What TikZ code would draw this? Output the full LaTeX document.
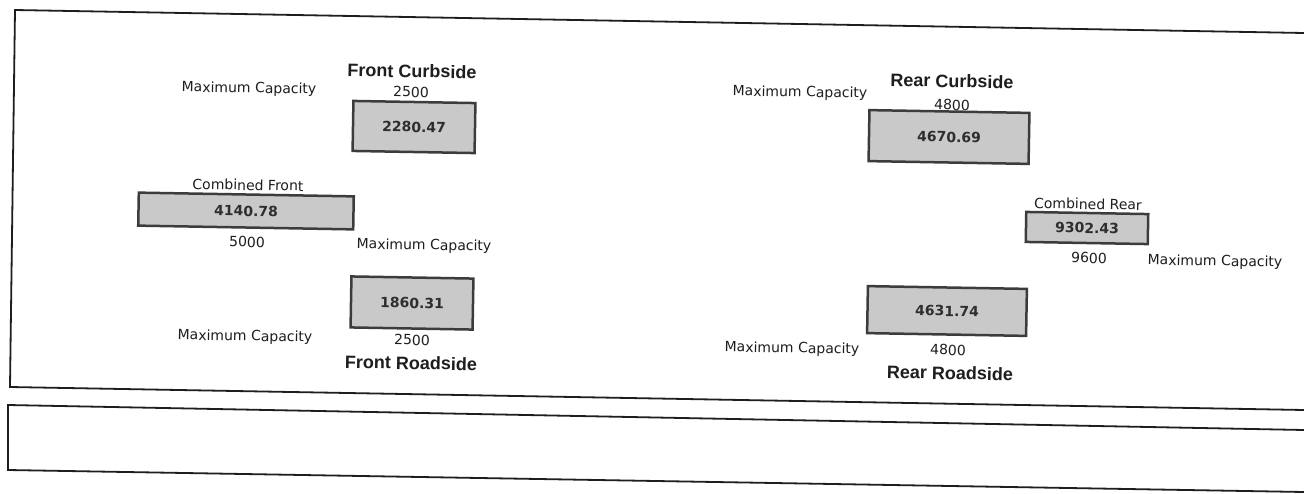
\documentclass[tikz,border=0pt]{standalone}
\usepackage{fontspec}
\setmainfont{DejaVu Sans}
\newfontfamily\titlefont{Liberation Sans}
\definecolor{ink}{HTML}{1E1E1E}
\definecolor{boxfill}{HTML}{C9C9C9}
\definecolor{boxedge}{HTML}{3C3C3C}
\definecolor{valink}{HTML}{2E2E2E}
\begin{document}
\begin{tikzpicture}[x=1pt,y=-1pt,
  lab/.style={font=\fontsize{14}{16}\selectfont, text=ink, rotate=-1, inner sep=0pt},
  ttl/.style={font=\titlefont\bfseries\fontsize{18}{20}\selectfont, text=ink, rotate=-1, inner sep=0pt},
  valbox/.style={draw=boxedge, fill=boxfill, line width=2.5pt, rotate=-1, inner sep=0pt,
    font=\bfseries\fontsize{14}{16}\selectfont, text=valink},
  frameline/.style={draw=ink, line width=1.8pt}
]
\useasboundingbox (0,0) rectangle (1304,493);
\fill[white] (0,0) rectangle (1304,493);

% frames
\coordinate (ftl) at (15,10);
\coordinate (ftr) at (1304,33);
\coordinate (fbl) at (10,387);
\coordinate (fbr) at (1304,410);
\draw[frameline] (ftr) -- (ftl) -- (fbl) -- (fbr);
\coordinate (gtl) at (8,405);
\coordinate (gtr) at (1304,430);
\coordinate (gbl) at (8,470);
\coordinate (gbr) at (1304,492);
\draw[frameline] (gtr) -- (gtl) -- (gbl) -- (gbr);

% Front Curbside
\node[lab] (fcmax) at (249,89) {Maximum Capacity};
\node[ttl] (fctitle) at (412,71) {Front Curbside};
\node[lab] (fccap) at (411,92) {2500};
\node[valbox, minimum width=122pt, minimum height=50pt] (fcbox) at (414,127) {2280.47};

% Combined Front
\node[lab] (cftitle) at (248,185) {Combined Front};
\node[valbox, minimum width=215pt, minimum height=33pt] (cfbox) at (246,211) {4140.78};
\node[lab] (cfcap) at (247,242) {5000};
\node[lab] (cfmax) at (424,246) {Maximum Capacity};

% Front Roadside
\node[valbox, minimum width=122pt, minimum height=51pt] (frbox) at (412,303) {1860.31};
\node[lab] (frmax) at (245,337) {Maximum Capacity};
\node[lab] (frcap) at (412,340) {2500};
\node[ttl] (frtitle) at (411,363) {Front Roadside};

% Rear Curbside
\node[ttl] (rctitle) at (952,81) {Rear Curbside};
\node[lab] (rcmax) at (800,93) {Maximum Capacity};
\node[lab] (rccap) at (952,105) {4800};
\node[valbox, minimum width=160pt, minimum height=51pt] (rcbox) at (949,137) {4670.69};

% Combined Rear
\node[lab] (crtitle) at (1088,204) {Combined Rear};
\node[valbox, minimum width=122pt, minimum height=30pt] (crbox) at (1087,228) {9302.43};
\node[lab] (crcap) at (1089,258) {9600};
\node[lab] (crmax) at (1215,262) {Maximum Capacity};

% Rear Roadside
\node[valbox, minimum width=159pt, minimum height=47pt] (rrbox) at (947,311) {4631.74};
\node[lab] (rrmax) at (792,349) {Maximum Capacity};
\node[lab] (rrcap) at (948,350) {4800};
\node[ttl] (rrtitle) at (950,373) {Rear Roadside};
\end{tikzpicture}
\end{document}
